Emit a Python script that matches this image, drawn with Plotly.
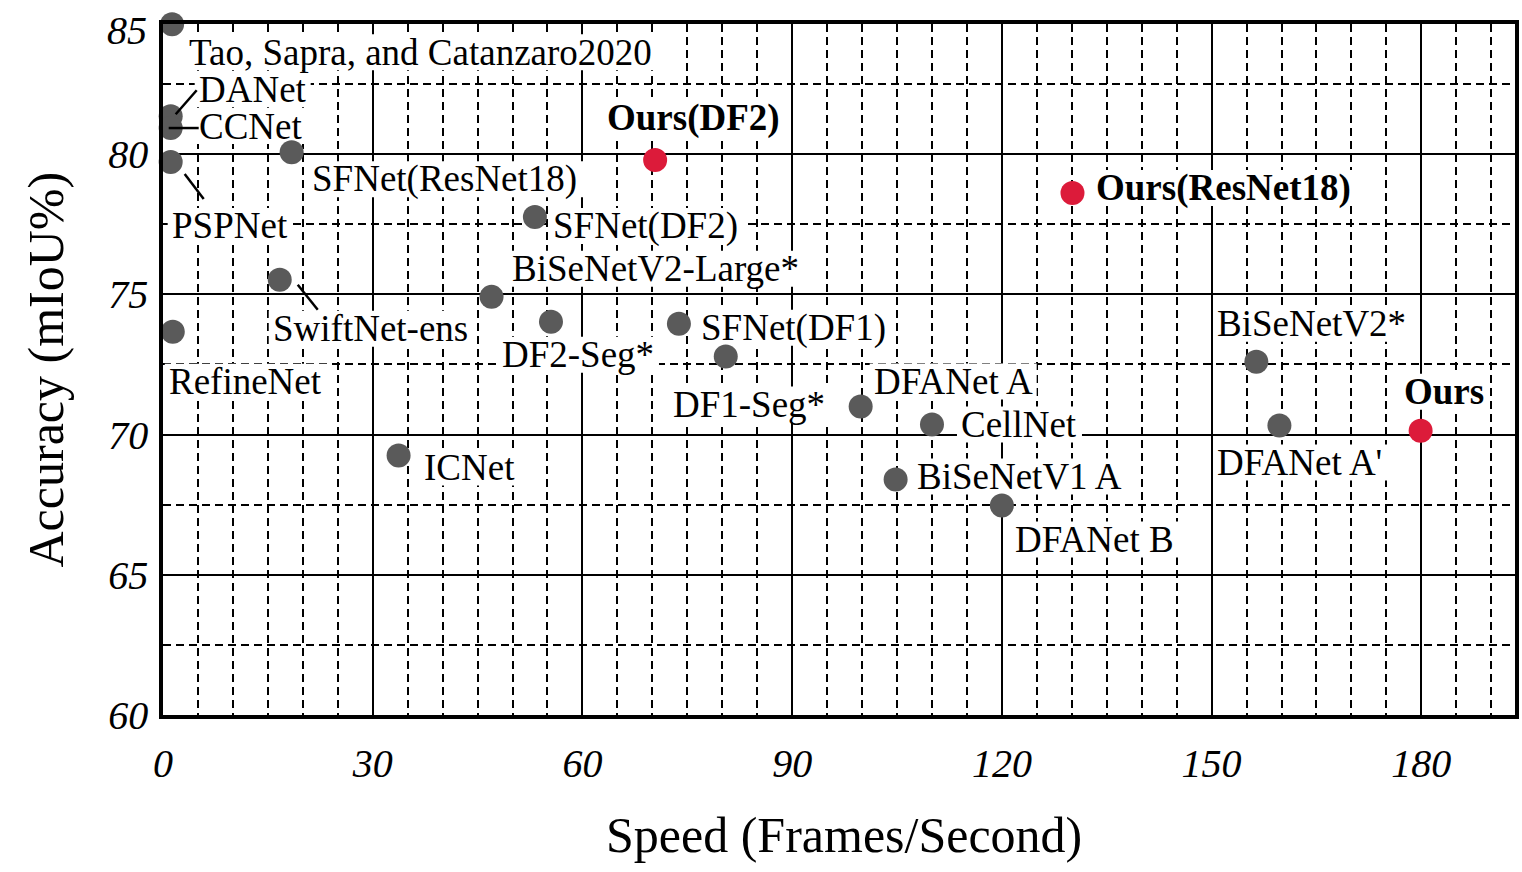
import plotly.graph_objects as go

# ---- data ----
methods = [
    "Tao, Sapra, and Catanzaro2020", "DANet", "CCNet", "PSPNet",
    "SFNet(ResNet18)", "Ours(DF2)", "SFNet(DF2)", "BiSeNetV2-Large*",
    "SwiftNet-ens", "RefineNet", "DF2-Seg*", "SFNet(DF1)", "DF1-Seg*",
    "DFANet A", "CellNet", "BiSeNetV1 A", "DFANet B", "ICNet",
    "Ours(ResNet18)", "BiSeNetV2*", "DFANet A'", "Ours",
]
speed = [1.3, 1.1, 1.1, 1.1, 18.4, 70.4, 53.2, 47.0, 16.7, 1.4, 55.5, 73.8,
         80.5, 99.8, 110.0, 104.8, 120.0, 33.7, 130.1, 156.4, 159.7, 179.9]
miou = [84.63, 81.35, 80.93, 79.72, 80.07, 79.79, 77.76, 74.91, 75.52, 73.67,
        74.02, 73.95, 72.78, 71.0, 70.36, 68.4, 67.47, 69.25, 78.61, 72.6,
        70.32, 70.14]
ours = {"Ours(DF2)", "Ours(ResNet18)", "Ours"}

x_ticks = [0, 30, 60, 90, 120, 150, 180]
y_ticks = [60, 65, 70, 75, 80]
y_top_label = "85"

# ---- styling / label placement (pixel offsets: dx right, dy down; w = label box width) ----
label_style = {
    "Tao, Sapra, and Catanzaro2020": (15, 28, 466),
    "DANet": (26, -27, 108),
    "CCNet": (26, -2, 104),
    "PSPNet": (-1, 64, 117),
    "SFNet(ResNet18)": (18, 27, 268),
    "Ours(DF2)": (-50, -42, 176),
    "SFNet(DF2)": (16, 9, 187),
    "BiSeNetV2-Large*": (18, -28, 290),
    "SwiftNet-ens": (-9, 49, 197),
    "RefineNet": (-6, 50, 156),
    "DF2-Seg*": (-51, 33, 153),
    "SFNet(DF1)": (20, 4, 188),
    "DF1-Seg*": (-55, 48, 153),
    "DFANet A": (11, -25, 159),
    "CellNet": (27, 0, 117),
    "BiSeNetV1 A": (19, -3, 207),
    "DFANet B": (11, 34, 160),
    "ICNet": (23, 12, 94),
    "Ours(ResNet18)": (22, -5, 258),
    "BiSeNetV2*": (-41, -38, 191),
    "DFANet A'": (-64, 37, 168),
    "Ours": (-19, -39, 81),
}
leaders = {
    "DANet": ((5, -2), (26, -26)),
    "CCNet": ((-2, 0), (28, 0)),
    "PSPNet": ((14, 12), (33, 37)),
    "SwiftNet-ens": ((18, 5), (38, 30)),
}
BOX_H = 36

GRAY = "#5a5a5a"
RED = "#dc1b3a"
FONT = "Liberation Serif"

fig = go.Figure()
colors = [RED if m in ours else GRAY for m in methods]
fig.add_trace(go.Scatter(
    x=speed, y=miou, mode="markers",
    marker=dict(size=24, color=colors, line=dict(width=0)),
    cliponaxis=False, showlegend=False, hoverinfo="text", text=methods,
))

annotations = []
shapes = []
for m, xv, yv in zip(methods, speed, miou):
    dx, dy, w = label_style[m]
    bold = m in ours
    annotations.append(dict(
        x=xv, y=yv, xref="x", yref="y", text=f"<b>{m}</b>" if bold else m,
        showarrow=False, xanchor="left", yanchor="middle",
        xshift=dx, yshift=-dy, borderpad=1,
        font=dict(family=FONT, size=37, color="black"),
    ))
    # white label background: above the grid, below the dots
    shapes.append(dict(
        type="rect", xref="x", yref="y", xsizemode="pixel", ysizemode="pixel",
        xanchor=xv, yanchor=yv, x0=dx - 2, x1=dx + w + 6,
        y0=-(dy - BOX_H / 2), y1=-(dy + BOX_H / 2),
        fillcolor="white", line=dict(width=0), layer="between",
    ))

for m, ((x0, y0), (x1, y1)) in leaders.items():
    i = methods.index(m)
    shapes.append(dict(
        type="line", xref="x", yref="y", xsizemode="pixel", ysizemode="pixel",
        xanchor=speed[i], yanchor=miou[i], x0=x0, x1=x1, y0=-y0, y1=-y1,
        line=dict(color="black", width=2.5), layer="above",
    ))

# axis titles and the top y label
annotations.append(dict(
    x=0.5, y=0, xref="paper", yref="paper", text="Speed (Frames/Second)",
    showarrow=False, xanchor="center", yanchor="middle", yshift=-120, xshift=5,
    font=dict(family=FONT, size=50, color="black"),
))
annotations.append(dict(
    x=0, y=0.5, xref="paper", yref="paper", text="Accuracy (mIoU%)",
    showarrow=False, xanchor="center", yanchor="middle", xshift=-118,
    textangle=-90, font=dict(family=FONT, size=50, color="black"),
))
annotations.append(dict(
    x=0, y=1, xref="paper", yref="paper", text=y_top_label,
    showarrow=False, xanchor="right", yanchor="middle", xshift=-14, yshift=-6,
    font=dict(family=FONT, size=40, color="black", style="italic"),
))

grid_dash = "8px,5px"
fig.update_layout(
    width=1522, height=872,
    margin=dict(l=163, r=3, t=24, b=157, pad=0),
    paper_bgcolor="white", plot_bgcolor="white",
    annotations=annotations, shapes=shapes,
    xaxis=dict(
        range=[0, 193.4], tickvals=x_ticks, ticktext=[str(v) for v in x_ticks],
        showgrid=True, gridcolor="black", gridwidth=2, zeroline=False,
        showline=True, linecolor="black", linewidth=3.5, mirror=True,
        ticks="", ticklabelstandoff=10,
        tickfont=dict(family=FONT, size=40, color="black", style="italic"),
        minor=dict(dtick=5, tick0=0, showgrid=True, gridcolor="black",
                   gridwidth=2, griddash=grid_dash, ticks=""),
    ),
    yaxis=dict(
        range=[60, 84.64], tickvals=y_ticks, ticktext=[str(v) for v in y_ticks],
        showgrid=True, gridcolor="black", gridwidth=2, zeroline=False,
        showline=True, linecolor="black", linewidth=3.5, mirror=True,
        ticks="", ticklabelstandoff=3,
        tickfont=dict(family=FONT, size=40, color="black", style="italic"),
        minor=dict(dtick=2.5, tick0=60, showgrid=True, gridcolor="black",
                   gridwidth=2, griddash=grid_dash, ticks=""),
    ),
)

fig.write_html("out.html", config={"displayModeBar": False},
               post_script="document.body.style.margin='0px';")
